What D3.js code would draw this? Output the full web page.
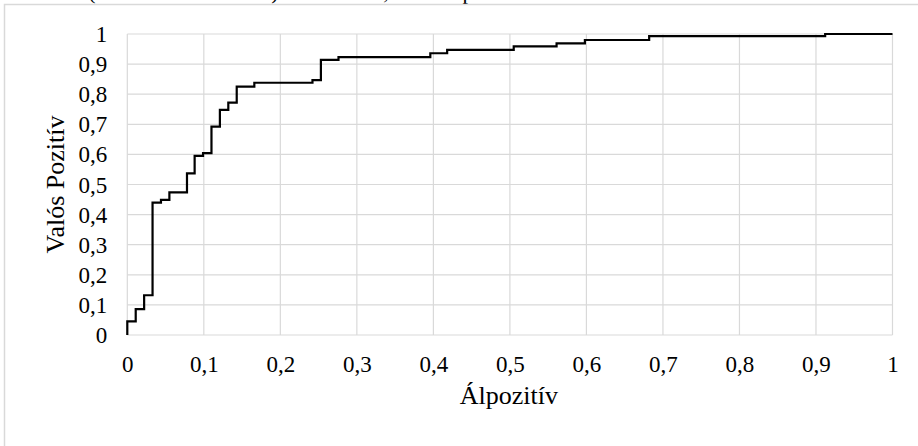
<!DOCTYPE html>
<html>
<head>
<meta charset="utf-8">
<script src="https://cdn.jsdelivr.net/npm/d3@7"></script>
<style>
  html, body { margin: 0; padding: 0; background: #fff; }
  text { font-family: "Liberation Serif", "Times New Roman", serif; fill: #000; }
</style>
</head>
<body>
<div id="chart"></div>
<script>
// ROC points: at each false positive rate the true positive rate jumps to the given value
const falsePos = [0, 0, 0.011, 0.022, 0.033, 0.044, 0.055, 0.078, 0.088, 0.099, 0.110, 0.121, 0.132, 0.143, 0.166, 0.242, 0.253, 0.276, 0.396, 0.418, 0.505, 0.561, 0.598, 0.682, 0.912, 1];
const truePos  = [0, 0.045, 0.086, 0.132, 0.440, 0.449, 0.474, 0.537, 0.595, 0.604, 0.692, 0.748, 0.772, 0.825, 0.838, 0.847, 0.914, 0.923, 0.936, 0.947, 0.959, 0.969, 0.980, 0.993, 1, 1];

const ticks = [0, 0.1, 0.2, 0.3, 0.4, 0.5, 0.6, 0.7, 0.8, 0.9, 1];
const xTitle = 'Álpozitív';
const yTitle = 'Valós Pozitív';

const width = 918;
const height = 446;
const margin = { top: 34, right: 25.5, bottom: 111, left: 127.3 };
const serif = '"Liberation Serif", "Times New Roman", serif';

const fmt = d => String(d).replace('.', ',');

let svg = d3.select('#chart')
  .append('svg')
  .attr('width', width)
  .attr('height', height);

svg.append('rect')
  .attr('width', width)
  .attr('height', height)
  .attr('fill', '#fff');

// leftover bottom of the document line above the chart
let topLine = [['(', 92], [')', 275], [',', 386], ['p', 468]];
topLine.forEach(([ch, x]) => {
  svg.append('text')
    .attr('x', x)
    .attr('y', -1)
    .attr('text-anchor', 'middle')
    .style('font-size', '22px')
    .text(ch);
});

// chart frame (runs past the right and bottom edge)
svg.append('rect')
  .attr('x', 4.5)
  .attr('y', 4.5)
  .attr('width', 940)
  .attr('height', 460)
  .attr('fill', 'none')
  .attr('stroke', '#d9d9d9')
  .attr('stroke-width', 1.5);

let x = d3.scaleLinear().domain([0, 1]).range([margin.left, width - margin.right]);
let y = d3.scaleLinear().domain([0, 1]).range([height - margin.bottom, margin.top]);

let grid = svg.append('g');

grid.selectAll('line.h')
  .data(ticks)
  .enter()
  .append('line')
  .attr('x1', x(0))
  .attr('x2', x(1))
  .attr('y1', d => y(d))
  .attr('y2', d => y(d))
  .attr('stroke', '#d9d9d9')
  .attr('stroke-width', 1.2);

grid.selectAll('line.v')
  .data(ticks)
  .enter()
  .append('line')
  .attr('y1', y(0))
  .attr('y2', y(1))
  .attr('x1', d => x(d))
  .attr('x2', d => x(d))
  .attr('stroke', '#d9d9d9')
  .attr('stroke-width', 1.2);

let xAxis = svg.append('g')
  .attr('transform', `translate(0, ${y(0)})`)
  .call(d3.axisBottom(x).tickValues(ticks).tickFormat(fmt).tickSize(0).tickPadding(29));
xAxis.attr('font-family', serif);
xAxis.select('.domain').remove();
xAxis.selectAll('text')
  .attr('dy', 0)
  .attr('dominant-baseline', 'central')
  .style('font-size', '23px')
  .style('font-family', serif);

let yAxis = svg.append('g')
  .attr('transform', `translate(${x(0)}, 0)`)
  .call(d3.axisLeft(y).tickValues(ticks).tickFormat(fmt).tickSize(0).tickPadding(20));
yAxis.attr('font-family', serif);
yAxis.select('.domain').remove();
yAxis.selectAll('text')
  .attr('dy', 0)
  .attr('dominant-baseline', 'central')
  .style('font-size', '23px')
  .style('font-family', serif);

let line = d3.line()
  .x(d => x(d[0]))
  .y(d => y(d[1]))
  .curve(d3.curveStepAfter);

svg.append('path')
  .datum(d3.zip(falsePos, truePos))
  .attr('d', line)
  .attr('fill', 'none')
  .attr('stroke', '#000')
  .attr('stroke-width', 2.2)
  .attr('stroke-linejoin', 'miter');

svg.append('text')
  .attr('x', (x(0) + x(1)) / 2 - 1)
  .attr('y', 404)
  .attr('text-anchor', 'middle')
  .style('font-size', '26px')
  .text(xTitle);

svg.append('text')
  .attr('transform', `translate(64, ${(y(0) + y(1)) / 2}) rotate(-90)`)
  .attr('text-anchor', 'middle')
  .style('font-size', '26px')
  .text(yTitle);
</script>
</body>
</html>
